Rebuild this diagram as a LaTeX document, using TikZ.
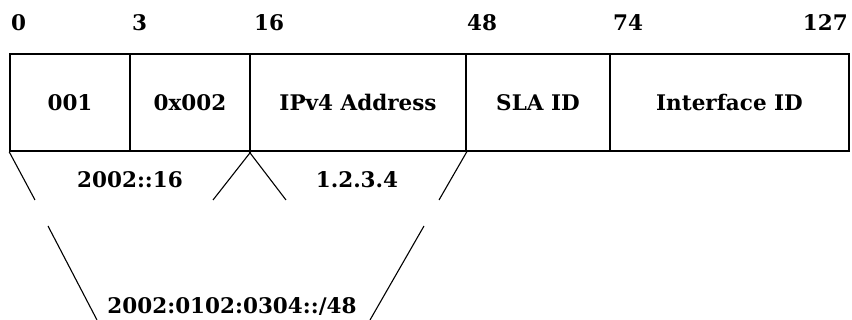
\documentclass[tikz,border=0pt]{standalone}
\usepackage{fontspec}
\setmainfont{DejaVu Serif}
\begin{document}
\begin{tikzpicture}[x=1pt,y=-1pt,
  cell/.style={draw,line width=1.6pt,minimum height=97pt,inner sep=0pt,font=\fontsize{21.5}{25}\selectfont\bfseries},
  lbl/.style={inner sep=0pt,font=\fontsize{21.5}{25}\selectfont\bfseries},
  link/.style={line width=1.1pt}]
\useasboundingbox (0,0) rectangle (852,320);
\node[cell,minimum width=120pt] (c1) at (70,102.5) {001};
\node[cell,minimum width=120pt] (c2) at (190,102.5) {0x002};
\node[cell,minimum width=216pt] (c3) at (358,102.5) {IPv4 Address};
\node[cell,minimum width=144pt] (c4) at (538,102.5) {SLA ID};
\node[cell,minimum width=239pt] (c5) at (729.5,102.5) {Interface ID};
\node[lbl,anchor=base west] (t0) at (11,31) {0};
\node[lbl,anchor=base west] (t3) at (132,31) {3};
\node[lbl,anchor=base west] (t16) at (254,31) {16};
\node[lbl,anchor=base west] (t48) at (467,31) {48};
\node[lbl,anchor=base west] (t74) at (613,31) {74};
\node[lbl,anchor=base east] (t127) at (848,31) {127};
\node[lbl,anchor=base] (p16) at (130,188) {2002::16};
\node[lbl,anchor=base] (ip4) at (357,188) {1.2.3.4};
\node[lbl,anchor=base] (p48) at (232,314) {2002:0102:0304::/48};
\coordinate (a1) at (35,200);
\coordinate (a2) at (213,200);
\coordinate (a3) at (286,200);
\coordinate (a4) at (439,200);
\coordinate (b1) at (48,226);
\coordinate (b2) at (97,320);
\coordinate (b3) at (424,226);
\coordinate (b4) at (370,320);
\draw[link] (c1.south west) -- (a1);
\draw[link] (c2.south east) -- (a2);
\draw[link] (c3.south west) -- (a3);
\draw[link] (c3.south east) -- (a4);
\draw[link] (b1) -- (b2);
\draw[link] (b3) -- (b4);
\end{tikzpicture}
\end{document}
